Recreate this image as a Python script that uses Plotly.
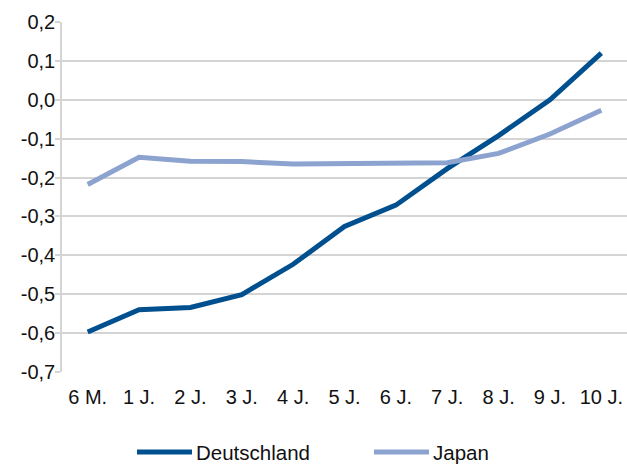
import plotly.graph_objects as go

categories = ["6 M.", "1 J.", "2 J.", "3 J.", "4 J.", "5 J.", "6 J.", "7 J.", "8 J.", "9 J.", "10 J."]
deutschland = [-0.597, -0.540, -0.534, -0.501, -0.423, -0.326, -0.271, -0.177, -0.092, 0.000, 0.120]
japan = [-0.218, -0.148, -0.158, -0.159, -0.165, -0.163, -0.162, -0.162, -0.138, -0.088, -0.027]
y_ticks = [0.2, 0.1, 0.0, -0.1, -0.2, -0.3, -0.4, -0.5, -0.6, -0.7]
y_labels = [f"{v:.1f}".replace(".", ",") for v in y_ticks]

series = [("Deutschland", deutschland, "#00508F"), ("Japan", japan, "#8DA3CF")]

fig = go.Figure()
for name, vals, color in series:
    fig.add_trace(go.Scatter(
        x=categories, y=vals, name=name, mode="lines",
        line=dict(color=color, width=5), showlegend=False,
    ))

family = "Liberation Sans, Arial, sans-serif"
tick_font = dict(family=family, size=20, color="#111111")
legend_font = dict(family=family, size=20.5, color="#111111")

fig.update_layout(
    width=627, height=464,
    margin=dict(l=62, r=0, t=22, b=92),
    paper_bgcolor="white", plot_bgcolor="white",
    font=tick_font,
    xaxis=dict(
        type="category", range=[-0.5, 10.5], showgrid=False,
        showline=False, ticks="", tickfont=tick_font, ticklabelstandoff=11,
    ),
    yaxis=dict(
        range=[-0.7, 0.2], tickvals=y_ticks, ticktext=y_labels,
        showgrid=True, gridcolor="#D4D4D4", gridwidth=1.5,
        showline=True, linecolor="#D4D4D4", linewidth=1.5,
        ticks="outside", ticklen=5, tickcolor="#D4D4D4", tickwidth=1.5,
        zeroline=False, tickfont=tick_font, ticklabelstandoff=-4,
    ),
)

# Legend drawn below the plot: line sample plus label for each series
legend_y = -(452 - 372) / 350
legend_x = [(137, 194), (374, 431)]
for (name, _, color), (x0, xt) in zip(series, legend_x):
    fig.add_shape(
        type="line", xref="paper", yref="paper",
        x0=(x0 - 62) / 565, x1=(x0 + 55 - 62) / 565, y0=legend_y, y1=legend_y,
        line=dict(color=color, width=5),
    )
    fig.add_annotation(
        xref="paper", yref="paper", x=(xt - 62) / 565, y=legend_y,
        text=name, showarrow=False, xanchor="left", yanchor="middle", font=legend_font,
    )

fig.write_html("out.html")
